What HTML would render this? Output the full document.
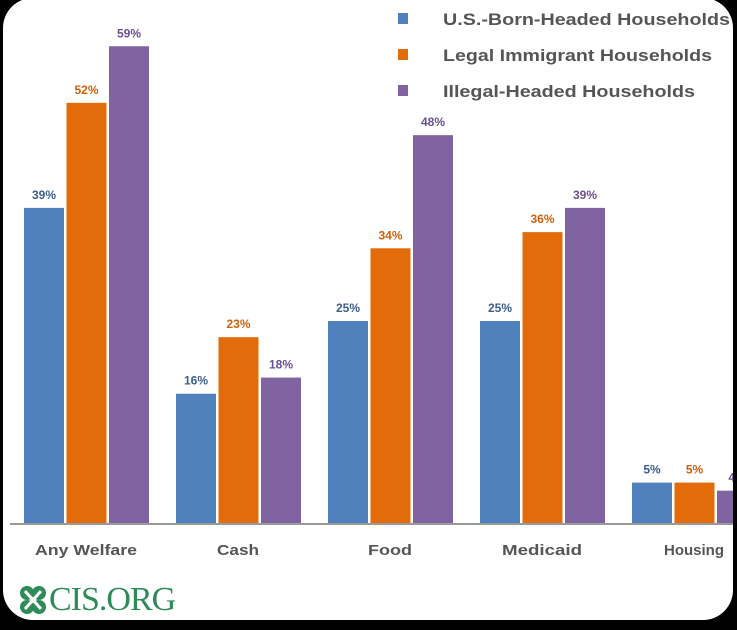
<!DOCTYPE html>
<html><head><meta charset="utf-8"><style>
html,body{margin:0;padding:0;background:#000;width:737px;height:630px;overflow:hidden}
#card{position:absolute;left:3px;top:-2px;width:730px;height:622px;background:#fff;border-radius:30px;overflow:hidden}
svg text{font-family:"Liberation Sans",sans-serif}
</style></head><body>
<div id="card">
<svg id="chart" width="737" height="630" style="position:absolute;left:-3px;top:2px"></svg>
</div>
<script>
const categories=["Any Welfare","Cash","Food","Medicaid","Housing"];
const usBorn=[39,16,25,25,5];
const legal=[52,23,34,36,5];
const illegal=[59,18,48,39,4];
const seriesNames=["U.S.-Born-Headed Households","Legal Immigrant Households","Illegal-Headed Households"];
const colors=["#4f81bd","#e36c0a","#8064a2"];
const labelColors=["#3b5e8f","#d0600a","#6a4f93"];
const catWidths=[102,42,44,80,60];
const legendWidths=[287,269,252];
const svg=document.getElementById('chart');
const NS='http://www.w3.org/2000/svg';
const base=523, perPct=8.08;
const y=v=>base-v*perPct;
const gx=i=>24+152*i;
function el(t,a){const e=document.createElementNS(NS,t);for(const k in a)e.setAttribute(k,a[k]);svg.appendChild(e);return e;}
const series=[usBorn,legal,illegal];
series.forEach((s,si)=>{
  s.forEach((v,i)=>{
    const x=gx(i)+si*42.5;
    const r=el('rect',{x:x,y:y(v),width:40,height:base-y(v),fill:colors[si]});
    
    
    const t=el('text',{x:x+20,y:y(v)-9,'text-anchor':'middle','font-size':12,'font-weight':'bold',fill:labelColors[si]});
    t.textContent=v+'%';
    
    
  });
});
const ax=el('line',{x1:10,x2:737,y1:base+1,y2:base+1,stroke:'#999','stroke-width':2});


categories.forEach((c,i)=>{
  const t=el('text',{x:gx(i)+62-catWidths[i]/2,y:555,'font-size':15,'font-weight':'bold',fill:'#555',textLength:catWidths[i],lengthAdjust:'spacingAndGlyphs'});
  t.textContent=c;
  
  
});
seriesNames.forEach((n,i)=>{
  const yy=19+36*i;
  const r=el('rect',{x:398,y:yy-6,width:10,height:11,fill:colors[i]});
  
  
  const t=el('text',{x:443,y:yy+6,'font-size':17,'font-weight':'bold',fill:'#555',textLength:legendWidths[i],lengthAdjust:'spacingAndGlyphs'});
  t.textContent=n;
  
  
});
</script>
<div style="position:absolute;left:19px;top:581px;display:flex;align-items:center">
<svg width="28" height="30"><g fill="#2e8b57"><circle cx="8" cy="8" r="7"/><circle cx="20" cy="8" r="7"/><circle cx="8" cy="22" r="7"/><circle cx="20" cy="22" r="7"/></g><path d="M6 6 L22 24 M22 6 L6 24" stroke="#fff" stroke-width="3"/></svg>
<span style="font-family:'Liberation Serif',serif;font-size:34px;color:#2e8b57;margin-left:2px;letter-spacing:-1px">CIS.ORG</span>
</div>
</body></html>
